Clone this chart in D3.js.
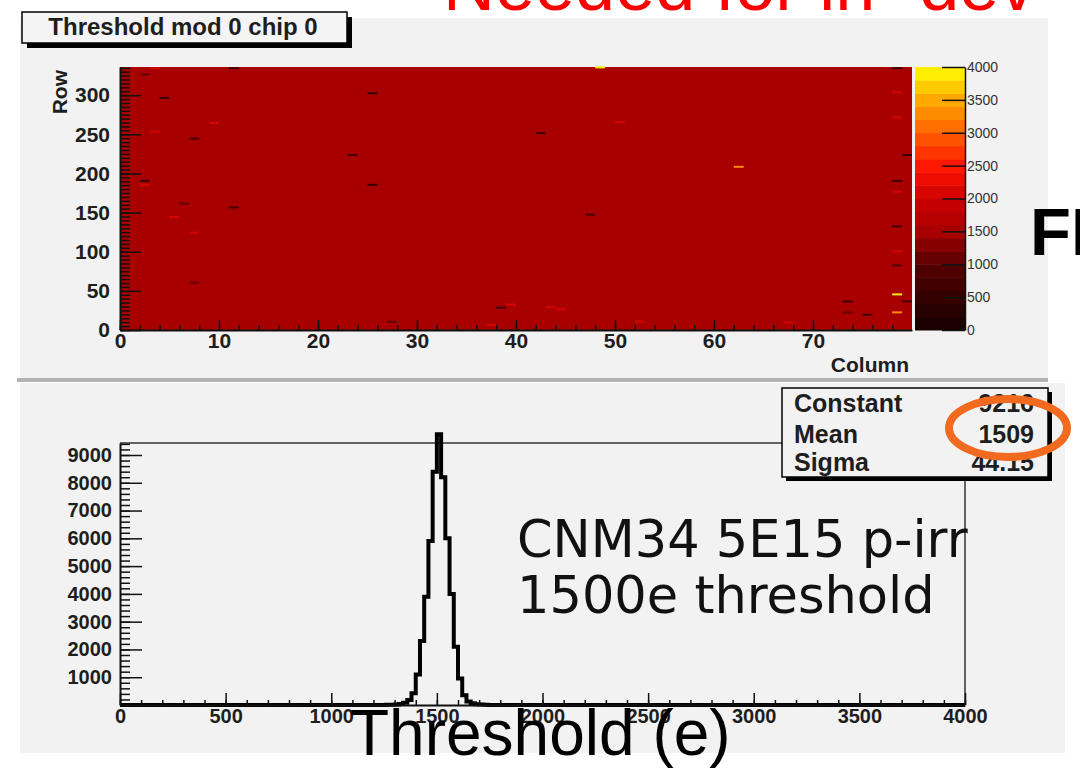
<!DOCTYPE html>
<html>
<head>
<meta charset="utf-8">
<script src="https://cdn.jsdelivr.net/npm/d3@7"></script>
<style>
  body { margin: 0; background: #fff; }
  svg { display: block; font-family: "Liberation Sans", Arial, sans-serif; }
</style>
</head>
<body>
<div id="chart"></div>
<script>
// ---- values ----
const nCols = 80;
const nRows = 336;
const baseThreshold = 1509;   // almost every pixel sits at the tuned value

// the few pixels that stand out from the rest
const oddCol = [11, 48, 25, 4, 9, 7, 42, 23, 2, 25, 62, 11, 47, 78, 78, 79, 78, 79, 78, 78, 78, 78, 78, 78, 78,
                3, 2, 3, 5, 7, 6, 7, 2, 39, 38, 43, 44, 27, 37, 73, 73, 75, 52, 67, 50];
const oddRow = [334, 335, 302, 296, 264, 244, 251, 223, 190, 185, 208, 156, 147, 45, 22, 36, 334, 223, 190, 132, 82, 303, 271, 176, 100,
                334, 326, 253, 144, 124, 161, 60, 185, 32, 28, 29, 26, 10, 6, 36, 22, 19, 10, 9, 265];
const oddThr = [600, 3900, 500, 700, 2000, 600, 600, 600, 500, 500, 3300, 600, 700, 3800, 3200, 600, 600, 500, 400, 700, 800, 2000, 2100, 2000, 2000,
                2000, 1100, 2000, 2000, 2000, 1000, 1000, 2000, 2100, 700, 2000, 2000, 1000, 2000, 700, 1000, 700, 2000, 2000, 2100];

const rowTicks = [0, 50, 100, 150, 200, 250, 300];
const colTicks = [0, 10, 20, 30, 40, 50, 60, 70];
const zTicks = [0, 500, 1000, 1500, 2000, 2500, 3000, 3500, 4000];

// threshold distribution, 20 e bins
const binLow = [1260, 1280, 1300, 1320, 1340, 1360, 1380, 1400, 1420, 1440, 1460, 1480,
                1500, 1520, 1540, 1560, 1580, 1600, 1620, 1640, 1660, 1680, 1700, 1720];
const binCount = [5, 10, 20, 35, 80, 180, 420, 1100, 2300, 3900, 5900, 8400,
                  9750, 8200, 6000, 4000, 2100, 950, 350, 130, 60, 30, 15, 5];
const thrTicks = [0, 500, 1000, 1500, 2000, 2500, 3000, 3500, 4000];
const countTicks = [1000, 2000, 3000, 4000, 5000, 6000, 7000, 8000, 9000];

const fitNames = ["Constant", "Mean", "Sigma"];
const fitValues = ["9216", "1509", "44.15"];
const noteLines = ["CNM34 5E15 p-irr", "1500e threshold"];

const W = 1080, H = 778;
const svg = d3.select("#chart").append("svg")
  .attr("width", W)
  .attr("height", H);

// slide title, cut off by the top edge
svg.append("text")
  .attr("x", 443)
  .attr("y", 10)
  .attr("fill", "#ff0000")
  .attr("font-size", 72)
  .text("Needed for in- dev");

// ---- pads ----
svg.append("rect").attr("x", 20).attr("y", 18).attr("width", 1028).attr("height", 360).attr("fill", "#f2f2f2");
svg.append("rect").attr("x", 17).attr("y", 378).attr("width", 1031).attr("height", 4).attr("fill", "#b3b3b3");
svg.append("rect").attr("x", 20).attr("y", 383).attr("width", 1045).attr("height", 370).attr("fill", "#f2f2f2");

const fmt = d3.format("d");

// helper: ROOT style axis with inside ticks
function rootAxis(g, axisFn, scale, major, minor, majorLen, minorLen, pad, fontSize) {
  g.append("g")
    .call(axisFn(scale).tickValues(minor).tickSize(-minorLen).tickSizeOuter(0).tickFormat(""))
    .call(s => s.select(".domain").remove())
    .selectAll("line").attr("stroke", "#111").attr("stroke-width", 1.5);
  const a = g.append("g")
    .call(axisFn(scale).tickValues(major).tickSize(-majorLen).tickSizeOuter(0).tickPadding(pad).tickFormat(fmt));
  a.attr("font-family", null).attr("font-size", fontSize).attr("font-weight", "bold");
  a.select(".domain").attr("stroke", "#111").attr("stroke-width", 2);
  a.selectAll("line").attr("stroke", "#111").attr("stroke-width", 1.5);
  a.selectAll("text").attr("fill", "#1e1e1e");
  return a;
}

// ---- top: threshold map ----
const xCol = d3.scaleLinear().domain([0, nCols]).range([120, 912]);
const yRow = d3.scaleLinear().domain([0, nRows]).range([330, 67]);
const zScale = d3.scaleLinear().domain([0, 4000]).range([330, 67]);

const palette = d3.scaleLinear()
  .domain([0, 1000, 1500, 2000, 2500, 3000, 3500, 4000])
  .range(["#140000", "#560000", "#a80000", "#cc0000", "#ff1800", "#ff6000", "#ffa800", "#ffff00"]);
const bands = d3.range(20).map(i => palette(i * 200 + 100));
const zColor = d3.scaleQuantize().domain([0, 4000]).range(bands);

const map = svg.append("g");
map.append("rect")
  .attr("x", xCol(0))
  .attr("y", yRow(nRows))
  .attr("width", xCol(nCols) - xCol(0))
  .attr("height", yRow(0) - yRow(nRows))
  .attr("fill", zColor(baseThreshold));

const odd = oddCol.map((c, i) => ({col: c, row: oddRow[i], thr: oddThr[i]}));
map.selectAll("rect.pix")
  .data(odd)
  .enter()
  .append("rect")
  .attr("class", "pix")
  .attr("x", d => xCol(d.col))
  .attr("y", d => yRow(d.row + 0.5) - 1)
  .attr("width", xCol(1) - xCol(0))
  .attr("height", 2)
  .attr("fill", d => zColor(d.thr));

rootAxis(map.append("g").attr("transform", `translate(${xCol(0)},0)`), d3.axisLeft, yRow,
  rowTicks, d3.range(0, nRows, 5), 21, 10, 10, 21);
rootAxis(map.append("g").attr("transform", `translate(0,${yRow(0)})`), d3.axisBottom, xCol,
  colTicks, d3.range(0, nCols, 2), 10, 5, 3, 21);

map.append("text")
  .attr("transform", `translate(67,70) rotate(-90)`)
  .attr("text-anchor", "end")
  .attr("font-size", 21)
  .attr("font-weight", "bold")
  .attr("fill", "#1e1e1e")
  .text("Row");

map.append("text")
  .attr("x", 909)
  .attr("y", 372)
  .attr("text-anchor", "end")
  .attr("font-size", 21)
  .attr("font-weight", "bold")
  .attr("fill", "#1e1e1e")
  .text("Column");

// colour bar
const bar = svg.append("g");
bar.selectAll("rect")
  .data(bands)
  .enter()
  .append("rect")
  .attr("x", 915)
  .attr("y", (d, i) => zScale((i + 1) * 200))
  .attr("width", 50)
  .attr("height", (d, i) => zScale(i * 200) - zScale((i + 1) * 200) + 0.5)
  .attr("fill", d => d);

const zAx = bar.append("g")
  .attr("transform", "translate(965,0)")
  .call(d3.axisRight(zScale).tickValues(zTicks).tickSize(-23).tickSizeOuter(0).tickPadding(2).tickFormat(fmt));
zAx.attr("font-family", null).attr("font-size", 14);
zAx.select(".domain").attr("stroke", "#111").attr("stroke-width", 1.5);
zAx.selectAll("line").attr("stroke", "#111").attr("stroke-width", 1.5);
zAx.selectAll("text").attr("fill", "#333");

// title box
svg.append("rect").attr("x", 27).attr("y", 17).attr("width", 325).attr("height", 31).attr("fill", "#000");
svg.append("rect").attr("x", 22).attr("y", 12).attr("width", 325).attr("height", 31)
  .attr("fill", "#f4f4f4").attr("stroke", "#000").attr("stroke-width", 1.5);
svg.append("text")
  .attr("x", 183)
  .attr("y", 35)
  .attr("text-anchor", "middle")
  .attr("font-size", 24)
  .attr("font-weight", "bold")
  .attr("fill", "#1e1e1e")
  .text("Threshold mod 0 chip 0");

// neighbouring slide text at the right edge
svg.append("text")
  .attr("x", 1030)
  .attr("y", 255)
  .attr("font-size", 67)
  .attr("font-weight", "bold")
  .attr("fill", "#000")
  .text("FE-I4");

// ---- bottom: threshold distribution ----
const xThr = d3.scaleLinear().domain([0, 4000]).range([120, 965]);
const yCnt = d3.scaleLinear().domain([0, 9432]).range([705, 443]);

const hist = svg.append("g");
hist.append("line").attr("x1", xThr(0)).attr("x2", xThr(4000)).attr("y1", yCnt(9432)).attr("y2", yCnt(9432))
  .attr("stroke", "#333").attr("stroke-width", 1.5);
hist.append("line").attr("x1", xThr(4000)).attr("x2", xThr(4000)).attr("y1", yCnt(9432)).attr("y2", yCnt(0))
  .attr("stroke", "#333").attr("stroke-width", 1.5);

const binW = binLow[1] - binLow[0];
const steps = [{x: 0, y: 0}, {x: binLow[0], y: 0}];
binLow.forEach((b, i) => {
  steps.push({x: b, y: binCount[i]});
  steps.push({x: b + binW, y: binCount[i]});
});
steps.push({x: binLow[binLow.length - 1] + binW, y: 0});
steps.push({x: 4000, y: 0});

hist.append("path")
  .datum(steps)
  .attr("fill", "none")
  .attr("stroke", "#000")
  .attr("stroke-width", 4)
  .attr("stroke-linejoin", "miter")
  .attr("d", d3.line().x(d => xThr(d.x)).y(d => yCnt(d.y)));

rootAxis(hist.append("g").attr("transform", `translate(${xThr(0)},0)`), d3.axisLeft, yCnt,
  countTicks, d3.range(200, 9432, 200), 22, 10, 8, 20);
rootAxis(hist.append("g").attr("transform", `translate(0,${yCnt(0)})`), d3.axisBottom, xThr,
  thrTicks, d3.range(0, 4001, 100), 12, 5, 4, 20);

// fit results box
const stats = svg.append("g");
stats.append("rect").attr("x", 786).attr("y", 392).attr("width", 266).attr("height", 89).attr("fill", "#000");
stats.append("rect").attr("x", 782).attr("y", 388).attr("width", 266).attr("height", 89)
  .attr("fill", "#f2f2f2").attr("stroke", "#000").attr("stroke-width", 1.5);
const rowY = [412, 443, 471];
stats.selectAll("text.name")
  .data(fitNames)
  .enter()
  .append("text")
  .attr("class", "name")
  .attr("x", 794)
  .attr("y", (d, i) => rowY[i])
  .attr("font-size", 25)
  .attr("font-weight", "bold")
  .attr("fill", "#1e1e1e")
  .text(d => d);
stats.selectAll("text.val")
  .data(fitValues)
  .enter()
  .append("text")
  .attr("class", "val")
  .attr("x", 1034)
  .attr("y", (d, i) => rowY[i])
  .attr("text-anchor", "end")
  .attr("font-size", 25)
  .attr("font-weight", "bold")
  .attr("fill", "#1e1e1e")
  .text(d => d);

// orange highlight around the mean
svg.append("ellipse")
  .attr("cx", 1008)
  .attr("cy", 428)
  .attr("rx", 59)
  .attr("ry", 29)
  .attr("fill", "none")
  .attr("stroke", "#f26a1f")
  .attr("stroke-width", 8);

// annotations
svg.selectAll("text.note")
  .data(noteLines)
  .enter()
  .append("text")
  .attr("class", "note")
  .attr("x", 517)
  .attr("y", (d, i) => 557 + i * 56)
  .attr("font-family", "'DejaVu Sans', Verdana, sans-serif")
  .attr("font-size", 51)
  .attr("fill", "#111")
  .text(d => d);

svg.append("text")
  .attr("x", 350)
  .attr("y", 755)
  .attr("font-size", 64)
  .attr("fill", "#000")
  .text("Threshold (e)");
</script>
</body>
</html>
